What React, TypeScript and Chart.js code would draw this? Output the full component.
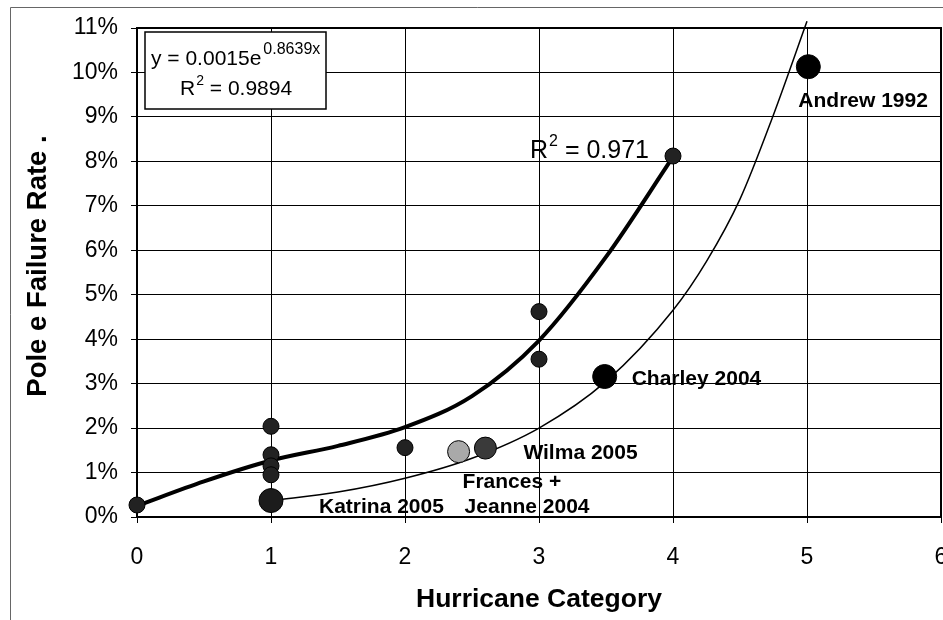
import React, { useEffect, useRef } from "react";
import { Chart, registerables } from "chart.js";

Chart.register(...registerables);

// ---- data ----
const xTickValues = [0, 1, 2, 3, 4, 5, 6];
const yTickValues = [0, 1, 2, 3, 4, 5, 6, 7, 8, 9, 10, 11]; // percent

// points by category (small dark markers)
const categoryX = [0, 1, 1, 1, 1, 2, 3, 3, 4];
const categoryY = [0.27, 2.04, 1.4, 1.15, 0.95, 1.56, 4.62, 3.55, 8.12];

// named storms (large markers)
const stormNames = ["Katrina 2005", "Frances +|Jeanne 2004", "Wilma 2005", "Charley 2004", "Andrew 1992"];
const stormX = [1, 2.4, 2.6, 3.49, 5.01];
const stormY = [0.37, 1.47, 1.55, 3.16, 10.13];

// thick trend curve (R² = 0.971)
const trendCatX = [0, 0.5, 1, 1.5, 2, 2.5, 3, 3.5, 4];
const trendCatY = [0.25, 0.8, 1.27, 1.6, 2.02, 2.72, 3.97, 5.85, 8.1];

// thin exponential trend curve (y = 0.0015e^0.8639x)
const trendStormX = [1, 1.5, 2, 2.5, 3, 3.5, 4, 4.25, 4.5, 4.75, 5];
const trendStormY = [0.37, 0.56, 0.87, 1.32, 2.0, 3.05, 4.65, 5.75, 7.15, 9.05, 11.15];

const equationText = "y = 0.0015e";
const equationExp = "0.8639x";
const r2Storm = "0.9894";
const r2Cat = "0.971";

const xTitle = "Hurricane Category";
const yTitle = "Pole e Failure Rate .";

const FONT = "'Liberation Sans', Arial, Helvetica, sans-serif";

const zip = (xs: number[], ys: number[]) => xs.map((x, i) => ({ x, y: ys[i] }));

export default function App() {
  const ref = useRef<HTMLCanvasElement | null>(null);

  useEffect(() => {
    if (!ref.current) return;
    Chart.defaults.font.family = FONT;
    Chart.defaults.color = "#000";

    const stormFill = ["#1c1c1c", "#a9a9a9", "#3a3a3a", "#000000", "#000000"];
    const stormRadius = [12, 11, 11, 12, 12];
    // label offsets relative to the marker (pixels)
    const labelOffsets: number[][][] = [
      [[48, 12]],
      [[4, 36], [6, 61]],
      [[38, 11]],
      [[27, 8]],
      [[-10, 40]],
    ];

    const decor = {
      id: "decor",
      beforeDraw(chart: any) {
        const ctx = chart.ctx;
        ctx.save();
        ctx.strokeStyle = "#666";
        ctx.lineWidth = 1;
        ctx.beginPath();
        ctx.moveTo(10.5, 700);
        ctx.lineTo(10.5, 7.5);
        ctx.lineTo(1000, 7.5);
        ctx.stroke();
        ctx.restore();
      },
      beforeDatasetsDraw(chart: any) {
        const { ctx, chartArea: a } = chart;
        ctx.save();
        ctx.strokeStyle = "#000";
        ctx.lineWidth = 2;
        ctx.strokeRect(a.left, a.top, a.right - a.left, a.bottom - a.top);
        // y axis title
        ctx.fillStyle = "#000";
        ctx.font = `bold 27.5px ${FONT}`;
        ctx.textAlign = "center";
        ctx.textBaseline = "middle";
        ctx.translate(38, 266);
        ctx.rotate(-Math.PI / 2);
        ctx.fillText(yTitle, 0, 0);
        ctx.restore();
      },
      afterDatasetsDraw(chart: any) {
        const { ctx, scales } = chart;
        const xs = scales.x;
        const ys = scales.y;
        ctx.save();
        ctx.fillStyle = "#000";
        ctx.textBaseline = "alphabetic";
        ctx.textAlign = "left";
        // storm labels
        ctx.font = `bold 21px ${FONT}`;
        stormNames.forEach((name, i) => {
          const px = xs.getPixelForValue(stormX[i]);
          const py = ys.getPixelForValue(stormY[i]);
          const lines = name.split("|");
          lines.forEach((ln, j) => {
            const off = labelOffsets[i][j];
            ctx.fillText(ln, px + off[0], py + off[1]);
          });
        });
        // R² of thick curve
        ctx.font = `25px ${FONT}`;
        let x = 530;
        ctx.fillText("R", x, 158);
        x += ctx.measureText("R").width;
        ctx.font = `16px ${FONT}`;
        ctx.fillText("2", x + 1, 146);
        x += ctx.measureText("2").width + 1;
        ctx.font = `25px ${FONT}`;
        ctx.fillText(" = " + r2Cat, x, 158);

        // equation box
        ctx.fillStyle = "#fff";
        ctx.fillRect(145, 32, 181, 77);
        ctx.strokeStyle = "#000";
        ctx.lineWidth = 1.5;
        ctx.strokeRect(145, 32, 181, 77);
        ctx.fillStyle = "#000";
        ctx.font = `21px ${FONT}`;
        ctx.fillText(equationText, 151, 65);
        const ex = 151 + ctx.measureText(equationText).width + 2;
        ctx.font = `16px ${FONT}`;
        ctx.fillText(equationExp, ex, 54);
        ctx.font = `21px ${FONT}`;
        let rx = 180;
        ctx.fillText("R", rx, 95);
        rx += ctx.measureText("R").width;
        ctx.font = `14px ${FONT}`;
        ctx.fillText("2", rx + 1, 85);
        rx += ctx.measureText("2").width + 1;
        ctx.font = `21px ${FONT}`;
        ctx.fillText(" = " + r2Storm, rx, 95);
        ctx.restore();
      },
    };

    const chart = new Chart(ref.current, {
      type: "scatter",
      data: {
        datasets: [
          {
            label: "storms",
            data: zip(stormX, stormY),
            backgroundColor: stormFill,
            borderColor: "#000",
            borderWidth: 1,
            pointRadius: stormRadius,
            pointHoverRadius: stormRadius,
            clip: false,
          } as any,
          {
            label: "categories",
            data: zip(categoryX, categoryY),
            backgroundColor: "#222",
            borderColor: "#000",
            borderWidth: 1,
            pointRadius: 8,
            clip: false,
          } as any,
          {
            label: "trend categories",
            data: zip(trendCatX, trendCatY),
            showLine: true,
            borderColor: "#000",
            borderWidth: 4,
            pointRadius: 0,
            cubicInterpolationMode: "monotone",
            clip: false,
          } as any,
          {
            label: "trend storms",
            data: zip(trendStormX, trendStormY),
            showLine: true,
            borderColor: "#000",
            borderWidth: 1.5,
            pointRadius: 0,
            cubicInterpolationMode: "monotone",
            clip: false,
          } as any,
        ],
      },
      options: {
        animation: false,
        responsive: false,
        events: [],
        layout: { autoPadding: false, padding: { left: 0, top: 28, right: 2, bottom: 0 } },
        plugins: {
          legend: { display: false },
          tooltip: { enabled: false },
        },
        scales: {
          x: {
            type: "linear",
            min: 0,
            max: 6,
            afterBuildTicks: (s: any) => {
              s.ticks = xTickValues.map((v) => ({ value: v }));
            },
            afterFit: (s: any) => {
              s.height = 103;
              s.paddingLeft = 0;
              s.paddingRight = 0;
            },
            ticks: { font: { size: 23 }, padding: 21, color: "#000", maxRotation: 0, autoSkip: false },
            grid: { color: "#000", lineWidth: 1, tickLength: 6, tickColor: "#000" },
            border: { display: false },
            title: {
              display: true,
              text: xTitle,
              font: { size: 26.5, weight: "bold" },
              padding: { top: 0, bottom: 4 },
              color: "#000",
            },
          },
          y: {
            type: "linear",
            min: 0,
            max: 11,
            afterBuildTicks: (s: any) => {
              s.ticks = yTickValues.map((v) => ({ value: v }));
            },
            afterFit: (s: any) => {
              s.width = 137;
              s.paddingTop = 0;
              s.paddingBottom = 0;
            },
            ticks: {
              font: { size: 23 },
              padding: 13,
              color: "#000",
              callback: (v: any) => `${v}%`,
            },
            grid: { color: "#000", lineWidth: 1, tickLength: 6, tickColor: "#000" },
            border: { display: false },
          },
        },
      },
      plugins: [decor],
    } as any);

    return () => chart.destroy();
  }, []);

  return (
    <div style={{ position: "absolute", left: 0, top: 0, width: 943, height: 620, background: "#fff" }}>
      <canvas ref={ref} width={943} height={620} style={{ display: "block" }} />
    </div>
  );
}
